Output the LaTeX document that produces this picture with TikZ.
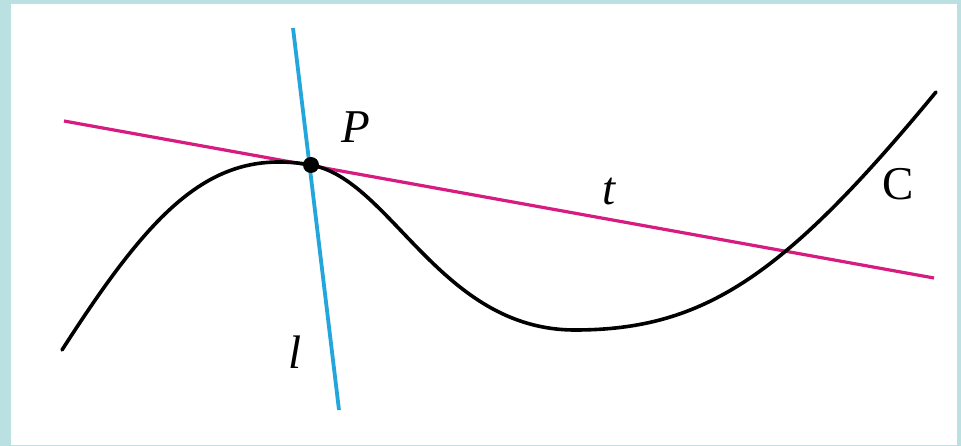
\documentclass[tikz,border=0pt]{standalone}
\usepackage{fontspec}
\setmainfont{Liberation Serif}
\definecolor{framebg}{RGB}{186,224,226}
\definecolor{linet}{RGB}{214,28,128}
\definecolor{linel}{RGB}{34,166,220}
\begin{document}
\begin{tikzpicture}[x=1pt,y=-1pt,
  curvestyle/.style={line width=3.6pt,black,line cap=round},
  tline/.style={line width=3.2pt,linet},
  lline/.style={line width=3.8pt,linel},
  lab/.style={font=\fontsize{47}{52}\selectfont,inner sep=0pt}]
\fill[framebg] (0,0) rectangle (961,446);
\fill[white] (11,4) rectangle (957,445);
\useasboundingbox (0,0) rectangle (961,446);
% named points
\coordinate (tA) at (64,121);
\coordinate (tB) at (934,278);
\coordinate (lA) at (293,28);
\coordinate (lB) at (339,410);
\coordinate (P) at (311,165);
\coordinate (C0) at (62,350);
\coordinate (Cmin) at (575,330);
\coordinate (C1) at (936,92);
% lines
\draw[tline] (tA) -- (tB);
\draw[lline] (lA) -- (lB);
% curve
\draw[curvestyle] (C0) .. controls (152,210) and (211,147) .. (P)
  .. controls (391,179.4) and (440,330) .. (Cmin)
  .. controls (705,330) and (785,275) .. (C1);
% point
\fill[black] (P) circle (8);
% labels
\node[lab] (Plab) at (356,127) {\itshape P};
\node[lab] (tlab) at (609,192) {\itshape t};
\node[lab] (llab) at (295,352) {\itshape l};
\node[lab] (Clab) at (898,184) {C};
\end{tikzpicture}
\end{document}
